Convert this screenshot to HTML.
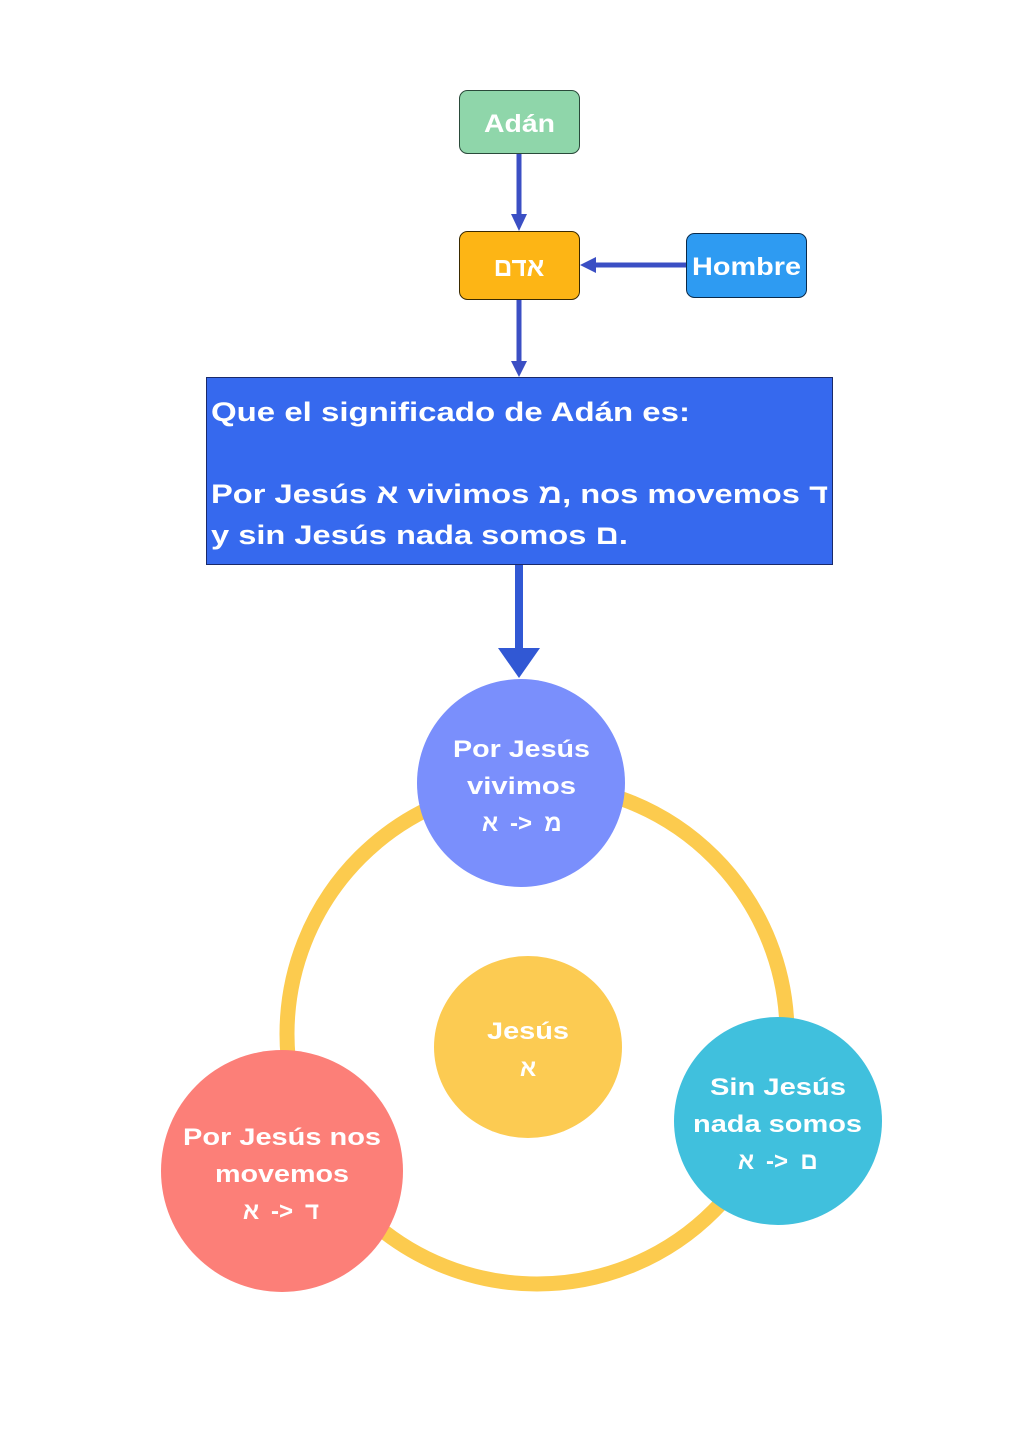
<!DOCTYPE html>
<html><head><meta charset="utf-8"><style>
html,body{margin:0;padding:0;background:#fff}
svg{display:block}
text{font-family:"Liberation Sans","Noto Sans CJK JP",sans-serif;font-weight:bold;fill:#fff}
</style></head><body>
<svg width="1019" height="1440" viewBox="0 0 1019 1440" xmlns="http://www.w3.org/2000/svg">
<rect width="1019" height="1440" fill="#fff"/>
<line x1="519" y1="153" x2="519" y2="216" stroke="#3B4FC4" stroke-width="5"/>
<polygon points="511,214 527,214 519,231" fill="#3B4FC4"/>
<line x1="519" y1="299" x2="519" y2="362" stroke="#3B4FC4" stroke-width="5"/>
<polygon points="511,361 527,361 519,377" fill="#3B4FC4"/>
<line x1="686" y1="265" x2="594" y2="265" stroke="#3B4FC4" stroke-width="5"/>
<polygon points="596,257 596,273 580,265" fill="#3B4FC4"/>
<line x1="519" y1="564" x2="519" y2="652" stroke="#3158D4" stroke-width="8"/>
<polygon points="498,648 540,648 519,678" fill="#3158D4"/>
<rect x="459.5" y="90.5" width="120" height="63" rx="8" fill="#8FD6AA" stroke="#2a4a3a" stroke-width="1"/>
<text x="484" y="132" font-size="25" textLength="71" lengthAdjust="spacingAndGlyphs">Adán</text>
<rect x="459.5" y="231.5" width="120" height="68" rx="8" fill="#FDB515" stroke="#3a2a00" stroke-width="1"/>
<text x="519" y="276" font-size="26" text-anchor="middle">אדם</text>
<rect x="686.5" y="233.5" width="120" height="64" rx="8" fill="#2E9BF2" stroke="#0a2a4a" stroke-width="1"/>
<text x="692" y="275" font-size="25" textLength="109" lengthAdjust="spacingAndGlyphs">Hombre</text>
<rect x="206.5" y="377.5" width="626" height="187" fill="#3669EE" stroke="#1a2a6a" stroke-width="1"/>
<text x="211" y="421" font-size="27" textLength="479" lengthAdjust="spacingAndGlyphs">Que el significado de Adán es:</text>
<text x="211" y="503" font-size="27" textLength="617" lengthAdjust="spacingAndGlyphs">Por Jesús א vivimos מ, nos movemos ד</text>
<text x="211" y="544" font-size="27" textLength="417" lengthAdjust="spacingAndGlyphs">y sin Jesús nada somos ם.</text>
<circle cx="537" cy="1034" r="250" fill="none" stroke="#FCCB4E" stroke-width="15"/>
<circle cx="521" cy="783" r="104" fill="#7A8FFC"/>
<text x="453" y="757" font-size="24" textLength="137" lengthAdjust="spacingAndGlyphs">Por Jesús</text>
<text x="467" y="794" font-size="24" textLength="109" lengthAdjust="spacingAndGlyphs">vivimos</text>
<text x="490" y="831" font-size="24" text-anchor="middle">א</text>
<text x="521" y="831" font-size="24" text-anchor="middle">-&gt;</text>
<text x="553" y="831" font-size="24" text-anchor="middle">מ</text>
<ellipse cx="528" cy="1047" rx="94" ry="91" fill="#FCCB52"/>
<text x="487" y="1039" font-size="24" textLength="82" lengthAdjust="spacingAndGlyphs">Jesús</text>
<text x="528" y="1076" font-size="24" text-anchor="middle">א</text>
<circle cx="282" cy="1171" r="121" fill="#FC7F78"/>
<text x="183" y="1145" font-size="24" textLength="198" lengthAdjust="spacingAndGlyphs">Por Jesús nos</text>
<text x="215" y="1182" font-size="24" textLength="134" lengthAdjust="spacingAndGlyphs">movemos</text>
<text x="251" y="1219" font-size="24" text-anchor="middle">א</text>
<text x="282" y="1219" font-size="24" text-anchor="middle">-&gt;</text>
<text x="312" y="1219" font-size="24" text-anchor="middle">ד</text>
<circle cx="778" cy="1121" r="104" fill="#40C0DD"/>
<text x="710" y="1095" font-size="24" textLength="136" lengthAdjust="spacingAndGlyphs">Sin Jesús</text>
<text x="693" y="1132" font-size="24" textLength="169" lengthAdjust="spacingAndGlyphs">nada somos</text>
<text x="746" y="1169" font-size="24" text-anchor="middle">א</text>
<text x="777" y="1169" font-size="24" text-anchor="middle">-&gt;</text>
<text x="809" y="1169" font-size="24" text-anchor="middle">ם</text>
</svg>
</body></html>
